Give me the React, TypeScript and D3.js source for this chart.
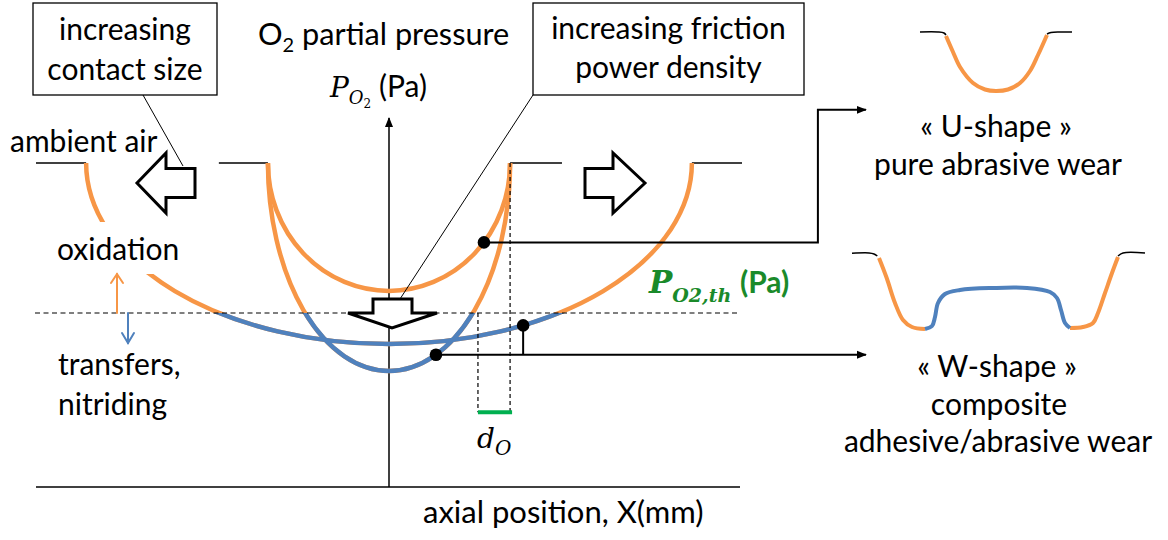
import React from "react";
import * as d3 from "d3";

// ---------------- data (schematic units) ----------------
// axial position X (mm) and O2 partial pressure (arbitrary Pa units)
const xDomain: [number, number] = [-10, 10];
const pDomain: [number, number] = [0, 10];
const AMBIENT_P = 10;
const THRESHOLD_P = 5.37;
const AXIS_TOP_P = 11.42;

// three O2 partial-pressure profiles (half contact width, minimum pressure)
const profileNames = ["small contact", "small contact, high power", "large contact"];
const profileHalfWidth = [3.43, 3.43, 8.58];
const profileMinP = [6.05, 3.58, 4.41];

// ambient-air surface segments outside the contacts
const ambientStart = [-10, -4.82, 3.43, 8.58];
const ambientEnd = [-8.58, -3.43, 4.9, 10];

// marker dots: on which profile, at which X
const markerProfile = [0, 1, 2];
const markerX = [2.69, 1.33, 3.8];

// d_O oxidised band
const dOStart = 2.52;
const dOEnd = 3.43;
const dOBarP = 2.31;

// connector routes (X, P)
const uRouteX = [12.15, 13.51];
const uRouteP = 11.64;
const wRouteEndX = 13.51;

// wear-scar icon profiles (local units: µm across, µm deep)
const uRimLeft: [number, number][] = [[0, 0], [18, 0], [24, 1], [26, 3]];
const uScar: [number, number][] = [[26, 4], [33, 20], [40, 35], [53, 51], [65, 57.5], [76, 59], [88, 57.5], [100, 51], [110, 39], [118, 23], [127, 3]];
const uRimRight: [number, number][] = [[127, 2], [131, 0.5], [140, 0], [152, 0]];

const wRimLeft: [number, number][] = [[0, 0.3], [17, 0], [22, 1], [25.3, 3]];
const wScarLeft: [number, number][] = [[27, 5], [34.7, 25], [43, 50], [51, 67], [60, 74], [73, 76]];
const wScarCentre: [number, number][] = [[73, 76], [80, 73], [83, 64], [86, 50], [93, 41], [108, 37], [141, 35], [175, 35], [198, 39], [205, 45], [209, 57], [213, 70], [218, 75]];
const wScarRight: [number, number][] = [[218, 75], [231, 74], [241, 70], [246, 60], [253, 40], [260, 20], [266, 4]];
const wRimRight: [number, number][] = [[266, 3], [271, 0], [293, 0]];

// ---------------- styles ----------------
const ORANGE = "#F79646";
const BLUE = "#4F81BD";
const GREEN_TXT = "#1A8A2A";
const GREEN_BAR = "#00B050";
const SANS = "Lato, 'Open Sans', sans-serif";
const MATH = "'DejaVu Serif', serif";
const FS = 30;

export default function App() {
  const W = 1168, H = 540;
  const x = d3.scaleLinear().domain(xDomain).range([36, 742]);
  const y = d3.scaleLinear().domain(pDomain).range([487, 163]);

  const yAmb = y(AMBIENT_P);
  const yTh = y(THRESHOLD_P);

  const profilePath = (i: number) => {
    const a = profileHalfWidth[i];
    const x0 = x(-a), x1 = x(a);
    const rx = (x1 - x0) / 2;
    const ry = y(profileMinP[i]) - yAmb;
    return `M${x0},${yAmb} A${rx},${ry} 0 0 0 ${x1},${yAmb}`;
  };
  const profileP = (i: number, xv: number) => {
    const a = profileHalfWidth[i];
    return AMBIENT_P - (AMBIENT_P - profileMinP[i]) * Math.sqrt(Math.max(0, 1 - (xv / a) ** 2));
  };

  const markers = markerX.map((xv, k) => ({ cx: x(xv), cy: y(profileP(markerProfile[k], xv)) }));

  // icon scales
  const uxs = d3.scaleLinear().domain([0, 152]).range([920, 1072]);
  const uys = d3.scaleLinear().domain([0, 59]).range([32, 91]);
  const wxs = d3.scaleLinear().domain([0, 293]).range([852, 1145]);
  const wys = d3.scaleLinear().domain([0, 76]).range([253, 329]);
  const uLine = d3.line<[number, number]>().x(d => uxs(d[0])).y(d => uys(d[1])).curve(d3.curveCatmullRom.alpha(0.5));
  const wLine = d3.line<[number, number]>().x(d => wxs(d[0])).y(d => wys(d[1])).curve(d3.curveCatmullRom.alpha(0.5));

  const wY = markers[1].cy;

  return (
    <svg width={W} height={H} style={{ display: "block", position: "absolute", left: 0, top: 0, background: "#fff" }}>
      <defs>
        <clipPath id="belowTh">
          <rect x={0} y={yTh} width={W} height={H - yTh} />
        </clipPath>
        <marker id="arrowHead" viewBox="0 0 10 10" refX={9} refY={5} markerWidth={10} markerHeight={10} markerUnits="userSpaceOnUse" orient="auto">
          <path d="M0,1 L10,5 L0,9 z" fill="#000" />
        </marker>
      </defs>

      {/* axes */}
      <line x1={x(xDomain[0])} x2={x(xDomain[1]) - 2} y1={y(0)} y2={y(0)} stroke="#000" strokeWidth={1.5} />
      <line x1={x(0)} x2={x(0)} y1={y(0)} y2={y(AXIS_TOP_P) + 1} stroke="#000" strokeWidth={1.5} markerEnd="url(#arrowHead)" />

      {/* ambient surface segments */}
      {ambientStart.map((s, i) => (
        <line key={"amb" + i} x1={x(s)} x2={x(ambientEnd[i])} y1={yAmb} y2={yAmb} stroke="#000" strokeWidth={1.5} />
      ))}

      {/* profiles: orange above threshold, blue below */}
      {profileNames.map((n, i) => (
        <path key={"po" + i} d={profilePath(i)} fill="none" stroke={ORANGE} strokeWidth={4.5} />
      ))}
      {profileNames.map((n, i) => (
        <path key={"pb" + i} d={profilePath(i)} fill="none" stroke={BLUE} strokeWidth={4.5} clipPath="url(#belowTh)" />
      ))}

      {/* white background behind "oxidation" */}
      <rect x={50} y={222} width={135} height={52} fill="#fff" />

      {/* threshold */}
      <line x1={35} x2={740} y1={yTh} y2={yTh} stroke="#000" strokeWidth={1.2} strokeDasharray="5,3.5" />

      {/* d_O dashed verticals and bar */}
      <line x1={x(dOStart)} x2={x(dOStart)} y1={yTh} y2={y(dOBarP)} stroke="#000" strokeWidth={1.2} strokeDasharray="4,3" />
      <line x1={x(dOEnd)} x2={x(dOEnd)} y1={yAmb} y2={y(dOBarP)} stroke="#000" strokeWidth={1.2} strokeDasharray="4,3" />
      <line x1={x(dOStart)} x2={x(dOEnd) + 2} y1={y(dOBarP)} y2={y(dOBarP)} stroke={GREEN_BAR} strokeWidth={4} />

      {/* hollow arrows */}
      <polygon points="137,183 166,153 166,168.5 195,168.5 195,197.5 166,197.5 166,213" fill="#fff" stroke="#000" strokeWidth={3} strokeLinejoin="miter" />
      <polygon points="645,183 613,153 613,168.5 585,168.5 585,197.5 613,197.5 613,213" fill="#fff" stroke="#000" strokeWidth={3} strokeLinejoin="miter" />
      <polygon points="373,299 412,299 412,313 437,313 392,328 348,313 373,313" fill="#fff" stroke="#000" strokeWidth={3} strokeLinejoin="miter" />

      {/* small oxidation / transfer arrows */}
      <g fill="none" strokeWidth={2} strokeLinecap="round">
        <line x1={117} x2={117} y1={yTh} y2={274} stroke={ORANGE} />
        <polyline points="111,283 117,274 123,283" stroke={ORANGE} />
        <line x1={128} x2={128} y1={yTh} y2={343} stroke={BLUE} />
        <polyline points="122,333 128,343 134,333" stroke={BLUE} />
      </g>

      {/* callout boxes */}
      <rect x={33} y={3} width={184} height={92} fill="#fff" stroke="#000" strokeWidth={1.3} />
      <line x1={143} y1={95} x2={183} y2={166} stroke="#000" strokeWidth={1} />
      <rect x={533} y={3} width={271} height={92} fill="#fff" stroke="#000" strokeWidth={1.3} />
      <line x1={533} y1={95} x2={400} y2={299} stroke="#000" strokeWidth={1} />

      {/* connectors */}
      <polyline points={`${markers[0].cx},${markers[0].cy} ${x(uRouteX[0])},${markers[0].cy} ${x(uRouteX[0])},${y(uRouteP)} ${x(uRouteX[1])},${y(uRouteP)}`} fill="none" stroke="#000" strokeWidth={2} markerEnd="url(#arrowHead)" />
      <line x1={markers[1].cx} y1={wY} x2={x(wRouteEndX)} y2={wY} stroke="#000" strokeWidth={2} markerEnd="url(#arrowHead)" />
      <line x1={markers[2].cx} y1={markers[2].cy} x2={markers[2].cx} y2={wY} stroke="#000" strokeWidth={2} />
      {markers.map((m, k) => (
        <circle key={"mk" + k} cx={m.cx} cy={m.cy} r={6.3} fill="#000" />
      ))}

      {/* U-shape icon */}
      <path d={uLine(uRimLeft) || ""} fill="none" stroke="#000" strokeWidth={1.5} />
      <path d={uLine(uRimRight) || ""} fill="none" stroke="#000" strokeWidth={1.5} />
      <path d={uLine(uScar) || ""} fill="none" stroke={ORANGE} strokeWidth={4} />

      {/* W-shape icon */}
      <path d={wLine(wRimLeft) || ""} fill="none" stroke="#000" strokeWidth={1.5} />
      <path d={wLine(wRimRight) || ""} fill="none" stroke="#000" strokeWidth={1.5} />
      <path d={wLine(wScarLeft) || ""} fill="none" stroke={ORANGE} strokeWidth={4} />
      <path d={wLine(wScarRight) || ""} fill="none" stroke={ORANGE} strokeWidth={4} />
      <path d={wLine(wScarCentre) || ""} fill="none" stroke={BLUE} strokeWidth={4} />

      {/* texts */}
      <g fontFamily={SANS} fontSize={FS} fill="#000">
        <text x={125} y={39.5} textAnchor="middle">increasing</text>
        <text x={125} y={79.5} textAnchor="middle">contact size</text>
        <text x={668.5} y={38.5} textAnchor="middle">increasing friction</text>
        <text x={668.5} y={78} textAnchor="middle">power density</text>
        <text x={258} y={45} fontSize={30.7}>O<tspan fontSize={20} dy={7}>2</tspan><tspan dy={-7}> partial pressure</tspan></text>
        <text x={379} y={97}>(Pa)</text>
        <text x={10} y={152} fontSize={30}>ambient air</text>
        <text x={57} y={260}>oxidation</text>
        <text x={58} y={375}>transfers,</text>
        <text x={58} y={415}>nitriding</text>
        <text x={423} y={523} fontSize={31}>axial position, X(mm)</text>
        <text x={996} y={137} textAnchor="middle">« U-shape »</text>
        <text x={998} y={175} textAnchor="middle">pure abrasive wear</text>
        <text x={997} y={377} textAnchor="middle">« W-shape »</text>
        <text x={999} y={415} textAnchor="middle">composite</text>
        <text x={998} y={452} textAnchor="middle">adhesive/abrasive wear</text>
      </g>

      {/* math labels */}
      <text x={330} y={97} fontFamily={MATH} fontStyle="italic" fontSize={28} fill="#000">
        P<tspan fontSize={18} dy={7}>O</tspan><tspan fontSize={12} fontStyle="normal" dy={4}>2</tspan>
      </text>
      <text x={477} y={448} fontFamily={MATH} fontStyle="italic" fontSize={28} fill="#000">
        d<tspan fontSize={20} dy={7}>O</tspan>
      </text>
      <g fill={GREEN_TXT}>
        <text x={649} y={293} fontFamily={MATH} fontStyle="italic" fontWeight="bold" fontSize={31}>
          P<tspan fontSize={19} dy={9}>O2,th</tspan>
        </text>
        <text x={740} y={293} fontFamily={SANS} fontWeight="bold" fontSize={FS}>(Pa)</text>
      </g>
    </svg>
  );
}
